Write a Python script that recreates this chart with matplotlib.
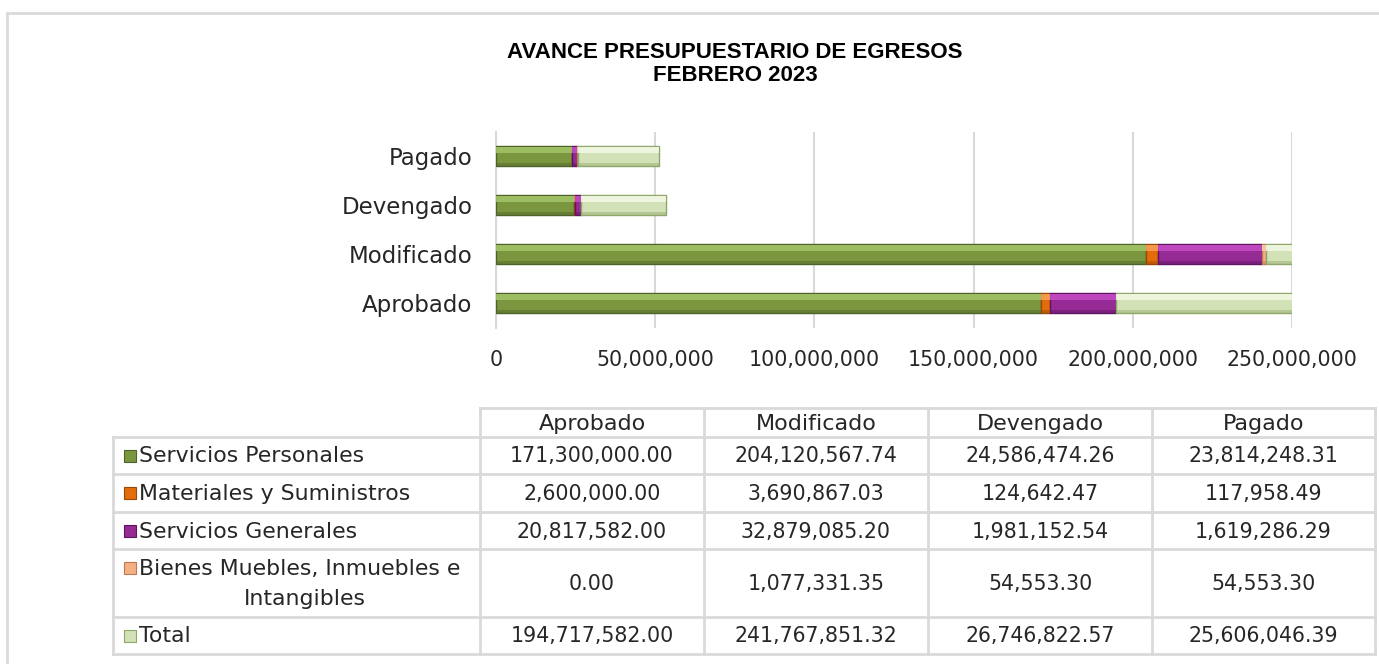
import matplotlib
matplotlib.use("Agg")
import matplotlib.pyplot as plt
import numpy as np
from matplotlib.patches import Rectangle
from matplotlib.lines import Line2D

# ---------------- data ----------------
categories = ["Aprobado", "Modificado", "Devengado", "Pagado"]
series_names = ["Servicios Personales", "Materiales y Suministros", "Servicios Generales",
                "Bienes Muebles, Inmuebles e\nIntangibles", "Total"]
servicios_personales = [171300000.00, 204120567.74, 24586474.26, 23814248.31]
materiales_suministros = [2600000.00, 3690867.03, 124642.47, 117958.49]
servicios_generales = [20817582.00, 32879085.20, 1981152.54, 1619286.29]
bienes_muebles = [0.00, 1077331.35, 54553.30, 54553.30]
total = [194717582.00, 241767851.32, 26746822.57, 25606046.39]
xticks = [0, 50000000, 100000000, 150000000, 200000000, 250000000]
title = "AVANCE PRESUPUESTARIO DE EGRESOS\nFEBRERO 2023"

series = [servicios_personales, materiales_suministros, servicios_generales, bienes_muebles, total]
main_colors = ["#7A973F", "#E46C0A", "#962B96", "#F4B183", "#D3E1B7"]
light_colors = ["#A4C46A", "#F7A15A", "#C64DC6", "#F9CDAA", "#F4F9E6"]
edge_colors = ["#4F6228", "#984807", "#5E1460", "#C07850", "#8FA86A"]

W, H = 1379, 664
fig = plt.figure(figsize=(W / 100, H / 100), dpi=100)
fig.patch.set_facecolor("white")

def fx(px):
    return px / W

def fy(py):
    return 1 - py / H

BODY = "DejaVu Sans"
TXT = "#262626"
GRID = "#D9D9D9"

# outer frame
fig.add_artist(Rectangle((fx(7), fy(700)), fx(1400 - 7), (700 - 13) / H, transform=fig.transFigure,
                         fill=False, edgecolor="#D9D9D9", linewidth=2.0))

# title
fig.text(fx(735), fy(64), title, ha="center", va="center", fontsize=16, fontweight="bold",
         family="Liberation Sans", color="black", linespacing=1.15)

# ---------------- chart ----------------
x0, x1 = 496, 1292
ytop, ybot = 131.5, 327.5
ax = fig.add_axes([fx(x0), fy(ybot), fx(x1 - x0), (ybot - ytop) / H])
ypos = np.arange(len(categories))
bh = 0.41
left = np.zeros(len(categories))
for vals, mc, lc, ec in zip(series, main_colors, light_colors, edge_colors):
    vals = np.array(vals)
    ecs = [ec if v > 0 else "none" for v in vals]
    ax.barh(ypos, vals, left=left, height=bh, color=mc, edgecolor=ecs, linewidth=1.0, zorder=3)
    # bevel highlight (upper) and shade (lower)
    ax.barh(ypos + bh * 0.32, vals, left=left, height=bh * 0.30, color=lc, edgecolor="none",
            linewidth=0, zorder=4, alpha=0.85)
    ax.barh(ypos - bh * 0.42, vals, left=left, height=bh * 0.14, color=ec, edgecolor="none",
            linewidth=0, zorder=4, alpha=0.45)
    left = left + vals

ax.set_xlim(0, 250000000)
ax.set_ylim(-0.5, 3.5)
ax.set_xticks(xticks)
ax.set_xticklabels([f"{t:,.0f}" for t in xticks], fontsize=14.8, family=BODY, color=TXT)
ax.set_yticks(ypos)
ax.set_yticklabels(categories, fontsize=16.5, family=BODY, color=TXT)
ax.tick_params(axis="x", length=0, pad=16)
ax.tick_params(axis="y", length=0, pad=17)
ax.grid(axis="x", color=GRID, linewidth=1.5, zorder=0)
for s in ["top", "right", "bottom"]:
    ax.spines[s].set_visible(False)
ax.spines["left"].set_color(GRID)
ax.spines["left"].set_linewidth(1.5)
ax.set_facecolor("none")

# ---------------- data table ----------------
col_x = [480, 704, 928, 1152, 1375]
row_y = [408, 437, 474, 512, 549, 617, 654]
lab_left = 113
lw = 2.0

def hline(x_a, x_b, y):
    fig.add_artist(Line2D([fx(x_a), fx(x_b)], [fy(y), fy(y)], transform=fig.transFigure,
                          color=GRID, linewidth=lw))

def vline(x, y_a, y_b):
    fig.add_artist(Line2D([fx(x), fx(x)], [fy(y_a), fy(y_b)], transform=fig.transFigure,
                          color=GRID, linewidth=lw))

hline(col_x[0], col_x[-1], row_y[0])
for y in row_y[1:]:
    hline(lab_left, col_x[-1], y)
vline(lab_left, row_y[1], row_y[-1])
for x in col_x:
    vline(x, row_y[0], row_y[-1])

# header
for j, c in enumerate(categories):
    fig.text(fx((col_x[j] + col_x[j + 1]) / 2), fy((row_y[0] + row_y[1]) / 2 + 1), c,
             ha="center", va="center", fontsize=16, family=BODY, color=TXT)

# rows
for i, (name, vals, mc, ec) in enumerate(zip(series_names, series, main_colors, edge_colors)):
    ya, yb = row_y[i + 1], row_y[i + 2]
    yc = (ya + yb) / 2
    lines = name.split("\n")
    first_y = yc if len(lines) == 1 else ya + 19
    # legend key
    fig.add_artist(Rectangle((fx(124), fy(first_y + 6)), fx(12), 12 / H, transform=fig.transFigure,
                             facecolor=mc, edgecolor=ec, linewidth=0.8))
    fig.text(fx(139), fy(first_y + 1), lines[0], ha="left", va="center", fontsize=15.8,
             family=BODY, color=TXT)
    if len(lines) > 1:
        fig.text(fx(305), fy(first_y + 31), lines[1], ha="center", va="center", fontsize=15.8,
                 family=BODY, color=TXT)
    for j, v in enumerate(vals):
        fig.text(fx((col_x[j] + col_x[j + 1]) / 2), fy(yc + 1), f"{v:,.2f}", ha="center",
                 va="center", fontsize=14.8, family=BODY, color=TXT)

fig.savefig("out.png", dpi=100, facecolor="white")
